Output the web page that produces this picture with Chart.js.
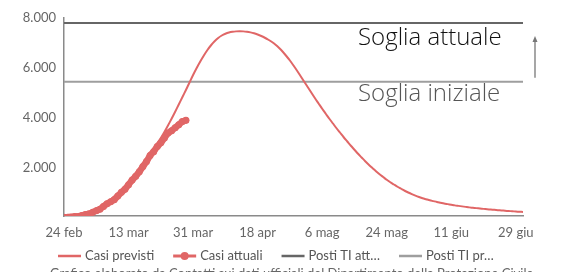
<!DOCTYPE html>
<html>
<head>
<meta charset="utf-8">
<script src="https://cdn.jsdelivr.net/npm/chart.js@4.4.1/dist/chart.umd.min.js"></script>
<style>
html,body{margin:0;padding:0;background:#fff;}
#wrap{width:580px;height:272px;position:relative;}
</style>
</head>
<body>
<div id="wrap"><canvas id="c" width="580" height="272"></canvas></div>
<script>
// ---- data ----
const tickLabels = ['24 feb','13 mar','31 mar','18 apr','6 mag','24 mag','11 giu','29 giu'];
const tickDays = [0,18,36,54,72,90,108,126];
const yTicks = [2000,4000,6000,8000];

const casiPrevisti = [
  40,50,65,85,110,140,180,230,290,360,
  440,530,630,740,860,990,1130,1280,1440,1610,
  1790,1980,2170,2360,2550,2760,2980,3200,3440,3700,
  3970,4250,4540,4830,5120,5420,5720,6000,6260,6500,
  6720,6910,7070,7200,7300,7370,7420,7450,7465,7470,
  7465,7450,7425,7390,7340,7280,7210,7130,7040,6930,
  6800,6650,6480,6300,6100,5890,5670,5450,5230,5010,
  4790,4580,4370,4170,3970,3780,3590,3410,3230,3060,
  2890,2730,2570,2420,2270,2130,2000,1870,1750,1640,
  1530,1430,1340,1250,1170,1090,1020,955,895,840,
  790,750,710,675,640,610,580,555,530,505,
  485,465,445,425,410,395,380,365,350,338,
  326,314,302,290,280,270,260,250,242
];
const casiAttuali = [
  26,35,36,56,64,105,140,166,229,295,
  351,462,567,650,733,877,1028,1153,1328,1518,
  1672,1851,2060,2257,2498,2655,2857,3009,3204,3396,
  3489,3612,3732,3856,3906
];
const postiTIAttuali = 7800;
const postiTIPreCrisi = 5450;
const seriesLabels = ['Casi previsti','Casi attuali','Posti TI att…','Posti TI pr…'];
const annotAttuale = 'Soglia attuale';
const annotIniziale = 'Soglia iniziale';
const caption = 'Grafico elaborato da Contatti sui dati ufficiali del Dipartimento della Protezione Civile';

// ---- build ----
const RED = '#e06666', DARK = '#666666', LIGHT = '#9e9e9e';
const lastDay = casiPrevisti.length - 1;
const toXY = arr => arr.map((v,i)=>({x:i,y:v}));
const flat = v => [{x:0,y:v},{x:lastDay,y:v}];
const fmt = v => String(v).replace(/\B(?=(\d{3})+(?!\d))/g,'.');

const extras = {
  id:'extras',
  afterDraw(chart){
    const ctx = chart.ctx, ys = chart.scales.y;
    ctx.save();
    const yA = ys.getPixelForValue(postiTIAttuali);
    const yI = ys.getPixelForValue(postiTIPreCrisi);
    ctx.textAlign='left'; ctx.textBaseline='alphabetic';
    ctx.font = '300 24px "Open Sans", Lato, sans-serif';
    ctx.fillStyle = '#111';
    ctx.fillText(annotAttuale, 358, yA + 22);
    ctx.fillStyle = '#555';
    ctx.fillText(annotIniziale, 358, yI + 19);
    // arrow
    ctx.strokeStyle = '#777'; ctx.fillStyle='#777'; ctx.lineWidth = 1.3;
    ctx.beginPath(); ctx.moveTo(535, yI - 4); ctx.lineTo(535, yA + 16); ctx.stroke();
    ctx.beginPath(); ctx.moveTo(535, yA + 13); ctx.lineTo(532.5, yA + 19); ctx.lineTo(537.5, yA + 19); ctx.closePath(); ctx.fill();
    // legend
    ctx.font = '13px Lato, sans-serif';
    ctx.textBaseline = 'middle';
    const ly = 256;
    const cols = [RED, RED, DARK, LIGHT];
    let x = 58;
    seriesLabels.forEach((lab,i)=>{
      ctx.strokeStyle = cols[i]; ctx.lineWidth = i===1 ? 3 : 2.5;
      ctx.beginPath(); ctx.moveTo(x, ly); ctx.lineTo(x+23, ly); ctx.stroke();
      if(i===1){ ctx.fillStyle = RED; ctx.beginPath(); ctx.arc(x+11.5, ly, 4, 0, Math.PI*2); ctx.fill(); }
      ctx.fillStyle = '#555';
      ctx.fillText(lab, x+27, ly);
      x += 27 + ctx.measureText(lab).width + 19;
    });
    // caption (cut by bottom edge)
    ctx.fillStyle = '#666';
    ctx.textBaseline = 'top';
    ctx.font = '13px Lato, sans-serif';
    ctx.fillText(caption, 50, 267);
    ctx.restore();
  }
};

new Chart(document.getElementById('c'), {
  type:'line',
  data:{
    datasets:[
      {label:seriesLabels[1], data:toXY(casiAttuali), borderColor:RED, backgroundColor:RED, borderWidth:6.5, pointRadius:3.5, pointHoverRadius:3.5, pointBorderWidth:0, tension:0.2, borderCapStyle:'round', borderJoinStyle:'round'},
      {label:seriesLabels[0], data:toXY(casiPrevisti), borderColor:RED, borderWidth:2, pointRadius:0, tension:0.3},
      {label:seriesLabels[2], data:flat(postiTIAttuali), borderColor:DARK, borderWidth:2, pointRadius:0},
      {label:seriesLabels[3], data:flat(postiTIPreCrisi), borderColor:LIGHT, borderWidth:2, pointRadius:0}
    ]
  },
  options:{
    responsive:false, animation:false, events:[],
    layout:{padding:{left:0,right:57,top:18,bottom:26}},
    plugins:{legend:{display:false}, tooltip:{enabled:false}, title:{display:false}},
    scales:{
      x:{
        type:'linear', min:0, max:lastDay,
        afterBuildTicks(s){ s.ticks = tickDays.map(v=>({value:v})); },
        afterFit(s){ s.height = 30; },
        grid:{display:false, drawTicks:false},
        border:{display:true, color:'#8a8a8a', width:1.5},
        ticks:{padding:9, autoSkip:false, maxRotation:0, color:'#666', font:{family:'Lato', size:13},
          callback:(v)=>{ const k = tickDays.indexOf(v); return k>=0 ? tickLabels[k] : null; }}
      },
      y:{
        min:80, max:8000,
        afterBuildTicks(s){ s.ticks = yTicks.map(v=>({value:v})); },
        afterFit(s){ s.width = 64; },
        grid:{display:false, drawTicks:false},
        border:{display:true, color:'#8a8a8a', width:1.5},
        ticks:{padding:8, color:'#666', font:{family:'Lato', size:13}, callback:v=>fmt(v)}
      }
    }
  },
  plugins:[extras]
});
</script>
</body>
</html>
